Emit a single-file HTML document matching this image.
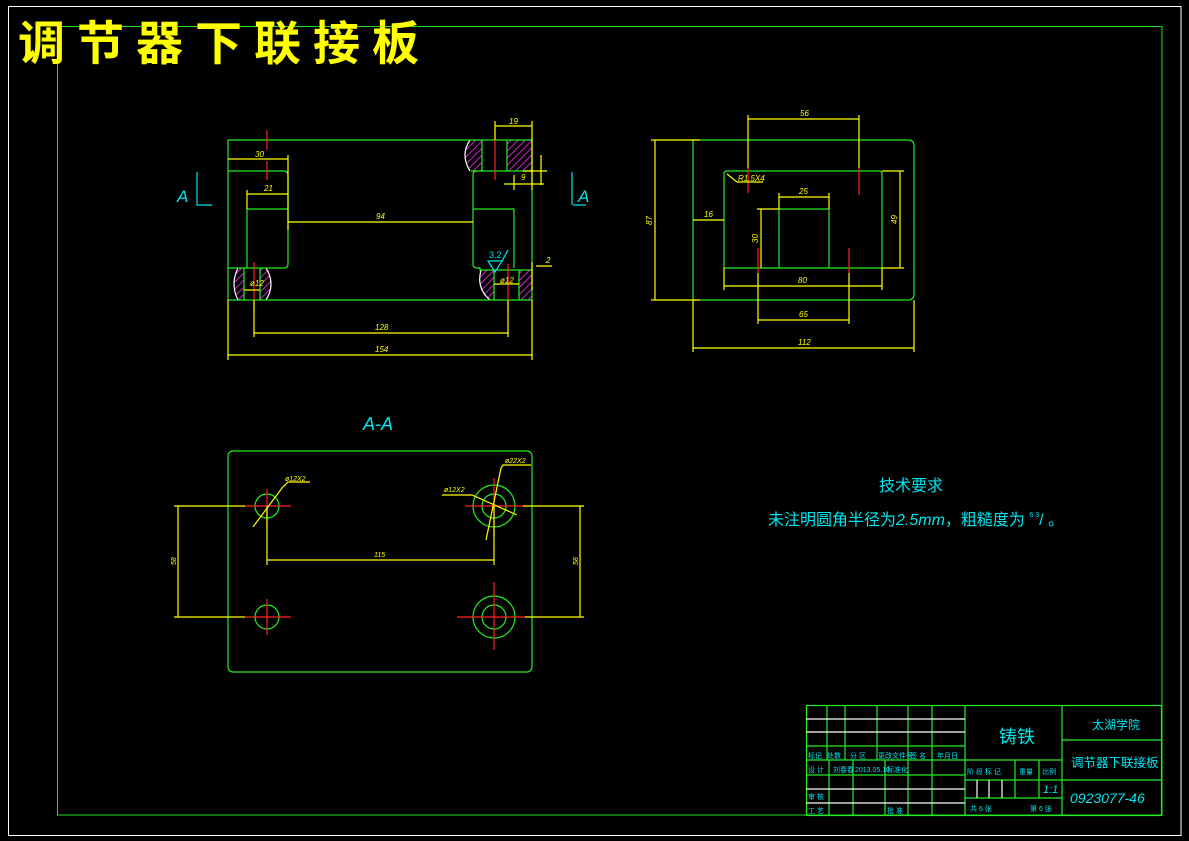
<!DOCTYPE html>
<html><head><meta charset="utf-8"><style>
html,body{margin:0;padding:0;background:#000;}
svg{display:block}
text{font-family:"Liberation Sans","Noto Sans CJK SC",sans-serif;}
</style></head><body>
<svg width="1189" height="841" viewBox="0 0 1189 841" xmlns="http://www.w3.org/2000/svg">
<defs>
<pattern id="h" width="5" height="5" patternUnits="userSpaceOnUse" patternTransform="rotate(45)">
<rect width="5" height="5" fill="#000"/><line x1="0" y1="0" x2="0" y2="5" stroke="#d020d0" stroke-width="2"/>
</pattern>
</defs>
<rect width="1189" height="841" fill="#000"/>
<rect x="8.5" y="6.5" width="1172.5" height="829" fill="none" stroke="#fff" stroke-width="1"/>
<rect x="57.5" y="26.5" width="1104.5" height="788.5" fill="none" stroke="#22dd22" stroke-width="1"/>
<text x="18" y="60" font-size="47" font-weight="bold" fill="#ffff00" font-family="'Noto Serif CJK SC','Noto Sans CJK SC',serif" letter-spacing="12">调节器下联接板</text>

<!-- ===== Top-left view ===== -->
<g fill="none" stroke-width="1.2">
<path d="M470 140 Q460 155 470 171 L482 171 L482 140 Z" fill="url(#h)" stroke="none"/>
<rect x="507" y="140" width="25" height="31" fill="url(#h)"/>
<path d="M238 268 Q230 284 238 300 L244 300 L244 268 Z" fill="url(#h)"/>
<path d="M266 268 Q276 284 266 300 L260 300 L260 268 Z" fill="url(#h)"/>
<path d="M481 270 Q476 288 490 300 L494 300 L494 270 Z" fill="url(#h)"/>
<rect x="519" y="270" width="13" height="30" fill="url(#h)"/>
<path d="M470 140 Q460 155 470 171 M238 268 Q230 284 238 300 M266 268 Q276 284 266 300 M481 270 Q476 288 490 300" stroke="#fff"/>
<g stroke="#22ee22">
<path d="M228 140 H532 V300 H228 Z"/>
<path d="M228 171 H284 Q288 171 288 176 V264 Q288 268 284 268"/>
<path d="M247 268 V209 H288"/>
<path d="M228 268 H284"/>
<path d="M471 171 H532"/>
<path d="M477 171 Q473 171 473 175 V264 Q473 268 477 268 H480 V270 H532"/>
<path d="M473 209 H514 V268"/>
<path d="M482 140 V171 M507 140 V171 M244 268 V300 M260 268 V300 M494 270 V300 M519 270 V300"/>
</g>
<g stroke="#ff2020">
<path d="M267 130 V150 M267 161 V180 M495 128 V180 M254 262 V310 M508 264 V310"/>
</g>
<g stroke="#ffff00">
<path d="M228 159 H288 M288 155 V230 M247 194 H288 M247 190 V209 M288 222 H473 M254 333 H508 M254 300 V337 M508 300 V337 M228 355 H532 M228 300 V360 M532 300 V360 M495 126 H532 M495 121 V140 M532 121 V171 M523 171 H547 M504 184 H544 M532 171 V190 M514 175 V190 M541 155 V185 M536 266 H552 M532 262 V290 M244 290 H260 M494 284 H519"/>
</g>
<g fill="#ffff00" font-size="8" font-style="italic" stroke="none">
<text x="255" y="157">30</text><text x="264" y="191">21</text><text x="376" y="219">94</text>
<text x="375" y="330">128</text><text x="375" y="352">154</text><text x="509" y="124">19</text>
<text x="521" y="180">9</text><text x="546" y="263">2</text><text x="250" y="286">ø12</text><text x="500" y="283">ø12</text>
</g>
<text x="489" y="258" fill="#00e5ee" font-size="9" stroke="none">3.2</text>
<path d="M488 261 L495 272 L502 261 Z M502 261 L508 250" stroke="#00e5ee"/>
<path d="M197 172 V205 H212 M573 205 H586 M572 172 V205" stroke="#00e5ee"/>
<text x="177" y="202" fill="#00e5ee" font-size="17" font-style="italic" stroke="none">A</text>
<text x="578" y="202" fill="#00e5ee" font-size="17" font-style="italic" stroke="none">A</text>
</g>

<!-- ===== Top-right view ===== -->
<g fill="none" stroke-width="1.2">
<g stroke="#22ee22">
<path d="M693 140 H908 Q914 140 914 146 V294 Q914 300 908 300 H693 Z"/>
<path d="M727 171 H879 Q882 171 882 174 V268 H724 V174 Q724 171 727 171 Z"/>
<path d="M779 209 V268 M829 209 V268 M779 209 H829"/>
</g>
<g stroke="#ff2020"><path d="M748 168 V193 M859 168 V195 M758 248 V273 M849 248 V273"/></g>
<g stroke="#ffff00">
<path d="M748 119 H859 M748 115 V168 M859 115 V168 M693 220 H724 M779 197 H829 M779 193 V209 M829 193 V209 M757 209 H779 M761 209 V268 M882 171 H904 M900 171 V268 M882 268 H904 M724 286 H882 M724 268 V290 M882 268 V290 M758 320 H849 M758 273 V324 M849 273 V324 M693 348 H914 M693 300 V352 M914 300 V352 M651 140 H700 M651 300 H700 M655 140 V300 M727 174 L737 182 H763"/>
</g>
<g fill="#ffff00" font-size="8" font-style="italic" stroke="none">
<text x="800" y="116">56</text><text x="704" y="217">16</text><text x="799" y="194">25</text>
<text x="798" y="283">80</text><text x="799" y="317">65</text><text x="798" y="345">112</text>
<text x="738" y="181">R1.5X4</text>
<text transform="translate(758,243) rotate(-90)">30</text>
<text transform="translate(897,224) rotate(-90)">49</text>
<text transform="translate(652,225) rotate(-90)">87</text>
</g>
</g>

<!-- ===== A-A ===== -->
<text x="363" y="430" fill="#00e5ee" font-size="18" font-style="italic">A-A</text>
<g fill="none" stroke-width="1.2">
<rect x="228" y="451" width="304" height="221" rx="5" stroke="#22ee22"/>
<g stroke="#22ee22">
<circle cx="267" cy="506" r="12"/><circle cx="267" cy="617" r="12"/>
<circle cx="494" cy="506" r="21"/><circle cx="494" cy="506" r="12"/>
<circle cx="494" cy="617" r="21"/><circle cx="494" cy="617" r="12"/>
</g>
<g stroke="#ff2020">
<path d="M245 506 H291 M267 489 V525 M245 617 H291 M267 599 V635 M465 506 H523 M494 478 V536 M457 617 H525 M494 582 V650"/>
</g>
<g stroke="#ffff00">
<path d="M174 506 H245 M174 617 H245 M178 506 V617 M267 506 V565 M494 506 V565 M267 560 H494 M523 506 H584 M525 617 H584 M580 506 V617 M253 527 L282 488 L288 482 H310 M442 495 L472 495 L517 515 M486 540 L501 468 L503 465 H531"/>
</g>
<g fill="#ffff00" font-size="7" font-style="italic" stroke="none">
<text x="285" y="481">ø12X2</text><text x="444" y="492">ø12X2</text><text x="505" y="463">ø22X2</text>
<text x="374" y="557">115</text>
<text transform="translate(176,565) rotate(-90)">58</text>
<text transform="translate(578,565) rotate(-90)">58</text>
</g>
</g>

<text x="879" y="491" fill="#00e5ee" font-size="16" font-family="'Noto Sans CJK SC',sans-serif">技术要求</text>
<text x="768" y="525" fill="#00e5ee" font-size="16" font-family="'Liberation Sans','Noto Sans CJK SC',sans-serif">未注明圆角半径为<tspan font-style="italic">2.5mm</tspan>，粗糙度为 <tspan font-size="7" dy="-8">6.3</tspan><tspan dy="8">/ 。</tspan></text>

<!-- ===== Title block ===== -->
<g fill="none" stroke-width="1.2">
<g stroke="#22ee22">
<rect x="806.5" y="705.5" width="355" height="110"/>
<path d="M827 705 V760 M845 705 V760 M877 705 V760 M908 705 V815 M932 705 V815 M965 705 V815 M1062 705 V815"/>
<path d="M806 746 H965 M806 760 H1062 M806 775 H965 M1062 740 H1162 M1062 780 H1162 M965 780 H1062 M965 798 H1062"/>
<path d="M829 760 V815 M853 760 V815 M885 760 V815 M1015 760 V798 M1039 760 V798"/>
</g>
<g stroke="#fff"><path d="M806 719 H965 M806 732 H965 M806 789 H965 M806 803 H965 M977 780 V798 M989 780 V798 M1002 780 V798"/></g>
</g>
<g fill="#00e5ee" font-family="'Noto Sans CJK SC',sans-serif">
<text x="999" y="743" font-size="18">铸铁</text>
<text x="1092" y="729" font-size="12">太湖学院</text>
<text x="1071" y="767" font-size="12.5">调节器下联接板</text>
<text x="1070" y="803" font-size="14" font-style="italic" font-family="'Liberation Sans',sans-serif">0923077-46</text>
<g font-size="7">
<text x="808" y="758">标记</text><text x="827" y="758">处数</text><text x="850" y="758">分 区</text><text x="878" y="758">更改文件号</text><text x="910" y="758">签 名</text><text x="937" y="758">年月日</text>
<text x="808" y="772">设 计</text><text x="833" y="772">刘春春</text><text x="855" y="772">2013.05.10</text><text x="887" y="772">标准化</text>
<text x="808" y="799">审 核</text><text x="808" y="813">工 艺</text><text x="887" y="813">批 准</text>
<text x="967" y="774">阶 段 标 记</text><text x="1019" y="774">重量</text><text x="1042" y="774">比例</text>
<text x="970" y="811">共 6 张</text><text x="1030" y="811">第 6 张</text>
</g>
<text x="1043" y="793" font-size="11" font-style="italic" font-family="'Liberation Sans',sans-serif">1:1</text>
</g>
</svg>
</body></html>
